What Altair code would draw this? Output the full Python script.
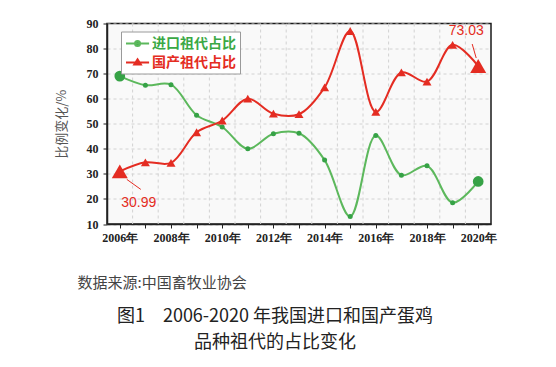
import altair as alt
import pandas as pd

years = list(range(2006, 2021))
imported = [69.01, 65.4, 65.6, 53.4, 48.7, 40.0, 46.0, 46.2, 35.5, 13.0, 45.3, 29.5, 33.2, 18.5, 26.97]
domestic = [30.99, 34.6, 34.4, 46.6, 51.3, 60.0, 54.0, 53.8, 64.5, 87.0, 54.7, 70.5, 66.8, 81.5, 73.03]
series_names = ["进口祖代占比", "国产祖代占比"]
y_ticks = [10, 20, 30, 40, 50, 60, 70, 80, 90]
source_text = "数据来源:中国畜牧业协会"
caption = ["图1　2006-2020 年我国进口和国产蛋鸡", "品种祖代的占比变化"]
y_title = "比例变化/%"

GREEN_LINE = "#5cb85c"
GREEN_DOT = "#36a246"
GREEN_TEXT = "#3aa845"
RED = "#e42c22"

rows = []
for y, v in zip(years, imported):
    rows.append({"year": y, "value": v, "series": series_names[0]})
for y, v in zip(years, domestic):
    rows.append({"year": y, "value": v, "series": series_names[1]})
df = pd.DataFrame(rows)

xscale = alt.Scale(domain=[2005.5, 2020.5], nice=False, zero=False)
yscale = alt.Scale(domain=[10, 90], nice=False, zero=False)

x_axis = alt.Axis(
    values=years,
    labelExpr="datum.value % 2 == 0 ? datum.value + '年' : ''",
    grid=False,
    tickSize=4, tickColor="#222", domainColor="#222", domainWidth=1.5,
    labelFont="Liberation Serif", labelFontWeight="bold", labelFontSize=12,
    labelColor="#222", labelPadding=4, labelOverlap=False, labelFlush=False,
    title=source_text, titleAnchor="start", titleAlign="left",
    titleX=-30, titleY=58, titleBaseline="middle",
    titleFont="Noto Sans CJK SC", titleFontSize=15, titleFontWeight="normal",
    titleColor="#444",
)
y_axis = alt.Axis(
    values=y_ticks, title=y_title,
    titleFont="Noto Sans CJK SC", titleFontWeight="normal", titleFontSize=13,
    titleColor="#555", titlePadding=18,
    labelFont="Liberation Serif", labelFontWeight="bold", labelFontSize=12,
    labelColor="#222", labelPadding=5,
    tickSize=4, tickColor="#222", domainColor="#222", domainWidth=1.5,
    grid=True, gridDash=[3, 3], gridColor="#d2d2d2",
)

X = alt.X("year:Q", scale=xscale, axis=x_axis)
Y = alt.Y("value:Q", scale=yscale, axis=y_axis)

base = alt.Chart(df)

grid_x = alt.Chart(pd.DataFrame({"year": years[:-1]})).transform_calculate(
    year="datum.year + 0.5"
).mark_rule(strokeDash=[3, 3], color="#d2d2d2", strokeWidth=1).encode(x=X)

# legend glyphs: line segment with a marker in the middle (unit = 7px)
green_path = "M-1,0H2.3M0.29,0A0.36,0.36 0 1,0 1.01,0A0.36,0.36 0 1,0 0.29,0Z"
red_path = "M-1,0H2.3M0.18,0.3L0.65,-0.45L1.12,0.3Z"
is_green = "datum.value == '" + series_names[0] + "'"

legend = alt.Legend(
    title=None, orient="none", legendX=14, legendY=8, direction="vertical",
    symbolType={"expr": is_green + " ? '" + green_path + "' : '" + red_path + "'"},
    symbolFillColor={"expr": is_green + " ? '" + GREEN_DOT + "' : '" + RED + "'"},
    symbolSize=196, symbolStrokeWidth=2,
    labelFont="Noto Sans CJK SC", labelFontSize=14, labelFontWeight="bold",
    labelColor={"expr": is_green + " ? '" + GREEN_TEXT + "' : '" + RED + "'"},
    labelOffset=11, padding=4, rowPadding=4,
    strokeColor="#9a9a9a", fillColor="#ffffff",
)

lines = base.mark_line(interpolate="catmull-rom", strokeWidth=2).encode(
    x=X, y=Y,
    color=alt.Color("series:N", scale=alt.Scale(domain=series_names, range=[GREEN_LINE, RED]), legend=legend),
)

endpoint = (alt.datum.year == years[0]) | (alt.datum.year == years[-1])

green_pts = base.transform_filter(alt.datum.series == series_names[0]).mark_point(
    filled=True, shape="circle", opacity=1, color=GREEN_DOT
).encode(x=X, y=Y, size=alt.condition(endpoint, alt.value(115), alt.value(25)))

red_pts = base.transform_filter(alt.datum.series == series_names[1]).mark_point(
    filled=True, shape="triangle-up", opacity=1, color=RED
).encode(x=X, y=Y, size=alt.condition(endpoint, alt.value(256), alt.value(81)))

first_red = base.transform_filter((alt.datum.series == series_names[1]) & (alt.datum.year == years[0]))
last_red = base.transform_filter((alt.datum.series == series_names[1]) & (alt.datum.year == years[-1]))

lab_first = first_red.mark_text(dx=19, dy=32, color=RED, fontSize=14, font="Liberation Sans").encode(
    x=X, y=Y, text=alt.Text("value:Q", format=".2f"))
lab_last = last_red.mark_text(dx=-12, dy=-35, color=RED, fontSize=14, font="Liberation Sans").encode(
    x=X, y=Y, text=alt.Text("value:Q", format=".2f"))

lead_first = first_red.mark_rule(color=RED, strokeWidth=1, xOffset=7, yOffset=8, x2Offset=21, y2Offset=18).encode(
    x=X, y=Y, x2=alt.X2("year:Q"), y2=alt.Y2("value:Q"))
lead_last = last_red.mark_rule(color=RED, strokeWidth=1, xOffset=-6, yOffset=-22, x2Offset=-2, y2Offset=-8).encode(
    x=X, y=Y, x2=alt.X2("year:Q"), y2=alt.Y2("value:Q"))

chart = alt.layer(
    grid_x, lines, green_pts, red_pts, lead_first, lead_last, lab_first, lab_last
).properties(
    width=384, height=200.5,
    padding={"left": 99, "top": 15.5, "right": 57, "bottom": 135},
    autosize=alt.AutoSizeParams(type="none"),
    title=alt.TitleParams(
        text=caption, orient="bottom", anchor="middle", fontSize=18,
        font="Noto Sans CJK SC", fontWeight="normal", color="#222",
        lineHeight=26, offset=18, baseline="top", dx=-24,
    ),
).configure_view(stroke="#1a1a1a", strokeWidth=1.5, fill="#f9f9f9")

chart.save("out.html", embed_options={"renderer": "svg", "actions": False})
